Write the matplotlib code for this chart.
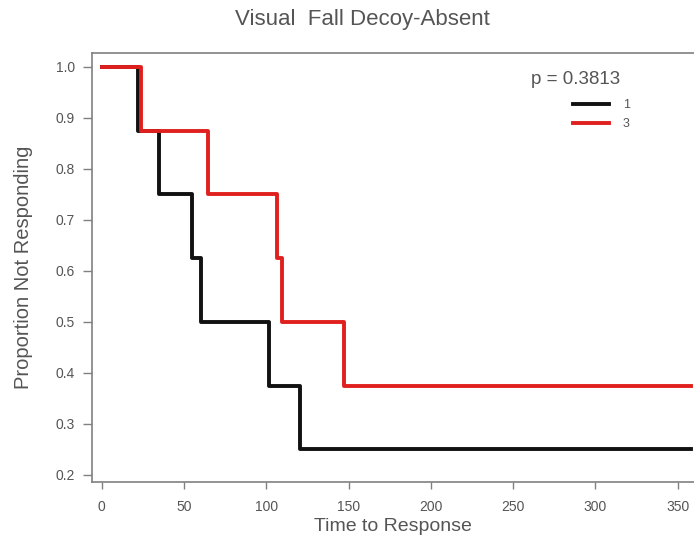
import matplotlib
matplotlib.use("Agg")
import matplotlib.pyplot as plt
from matplotlib.lines import Line2D

plt.rcParams["font.family"] = ["Liberation Sans", "DejaVu Sans"]

# Kaplan-Meier steps
group1_time = [0, 22, 35, 55, 60, 101.5, 120.5, 358]
group1_surv = [1.0, 0.875, 0.75, 0.625, 0.5, 0.375, 0.25, 0.25]
group3_time = [0, 24, 64.5, 106.5, 109.5, 147, 358]
group3_surv = [1.0, 0.875, 0.75, 0.625, 0.5, 0.375, 0.375]

group_labels = ["1", "3"]
p_text = "p = 0.3813"
x_ticks = [0, 50, 100, 150, 200, 250, 300, 350]
y_ticks = [0.2, 0.3, 0.4, 0.5, 0.6, 0.7, 0.8, 0.9, 1.0]

text_grey = "#555555"
axis_grey = "#808080"
red = "#e0201e"

fig = plt.figure(figsize=(6.94, 5.45), dpi=100)
ax = fig.add_axes([92 / 694, 63 / 545, 1 - 92 / 694, 429 / 545])

ax.step(group1_time, group1_surv, where="post", color="#111111", lw=2.8, zorder=2)
ax.step(group3_time, group3_surv, where="post", color=red, lw=2.8, zorder=3)

ax.set_xlim(-6, 360)
ax.set_ylim(0.186, 1.027)
ax.set_xticks(x_ticks)
ax.set_yticks(y_ticks)
ax.set_yticklabels([f"{v:.1f}" for v in y_ticks])

for side in ["left", "bottom", "top"]:
    ax.spines[side].set_color(axis_grey)
    ax.spines[side].set_linewidth(1.2)
ax.spines["right"].set_visible(False)

ax.tick_params(axis="y", direction="out", length=6.5, width=1, color=axis_grey,
               pad=6, labelsize=10, labelcolor=text_grey)
ax.tick_params(axis="x", direction="out", length=5, width=1, color=axis_grey,
               pad=8, labelsize=10, labelcolor=text_grey)

ax.set_xlabel("Time to Response", fontsize=14, color=text_grey, labelpad=3)
ax.set_ylabel("Proportion Not Responding", fontsize=14.5, color=text_grey, labelpad=16)

fig.text(362 / 694, 1 - 20 / 545, "Visual  Fall Decoy-Absent", ha="center", va="center",
         fontsize=16, color=text_grey)
fig.text(576 / 694, 1 - 80 / 545, p_text, ha="center", va="center",
         fontsize=13.5, color=text_grey)

handles = [Line2D([], [], color="#111111", lw=2.8), Line2D([], [], color=red, lw=2.8)]
leg = ax.legend(handles, group_labels, loc="upper left",
                bbox_to_anchor=(573 / 694, 1 - 99 / 545), bbox_transform=fig.transFigure,
                frameon=False, fontsize=9, handlelength=2.9, handletextpad=1.1,
                labelspacing=0.55, borderpad=0, borderaxespad=0)
for t in leg.get_texts():
    t.set_color(text_grey)

fig.savefig("out.png", dpi=100)
